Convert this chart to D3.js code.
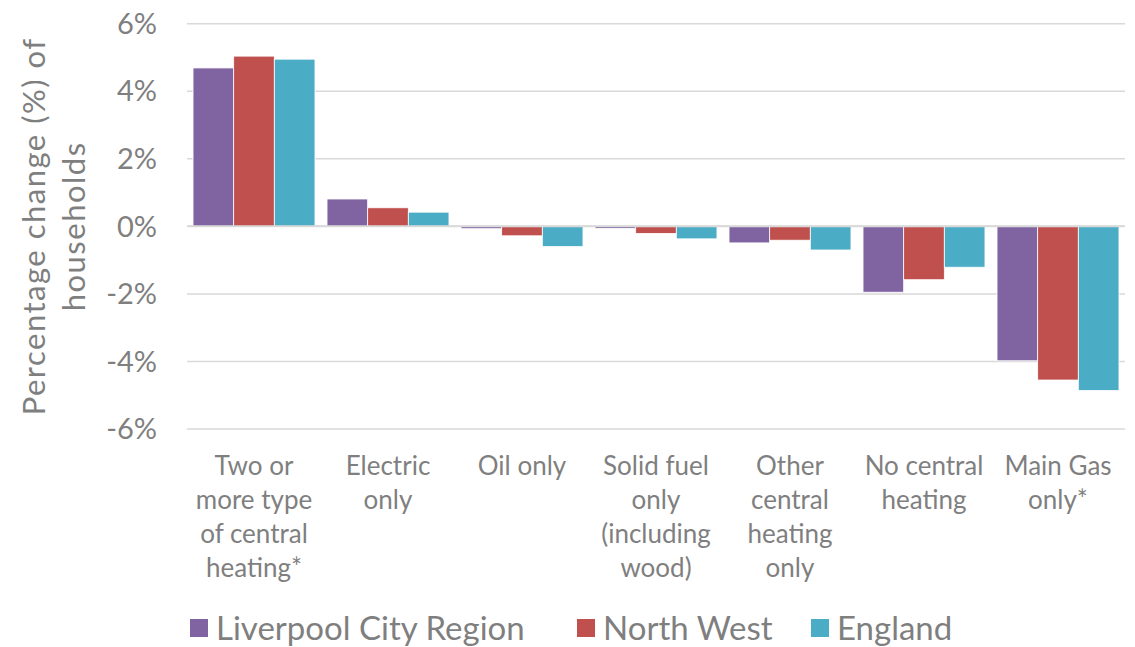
<!DOCTYPE html>
<meta charset="utf-8">
<style>
body { margin: 0; background: #fff; }
text { font-family: Lato, "Open Sans", sans-serif; fill: #7f7f7f; }
.grid line { stroke: #d9d9d9; stroke-width: 1.5px; }
</style>
<body>
<script src="https://cdn.jsdelivr.net/npm/d3@7"></script>
<script>

// categories (each split into the lines shown under the axis)
var categories = ["Two or more type of central heating*", "Electric only", "Oil only",
  "Solid fuel only (including wood)", "Other central heating only", "No central heating", "Main Gas only*"];
var categoryLines = [
  ["Two or", "more type", "of central", "heating*"],
  ["Electric", "only"],
  ["Oil only"],
  ["Solid fuel", "only", "(including", "wood)"],
  ["Other", "central", "heating", "only"],
  ["No central", "heating"],
  ["Main Gas", "only*"]
];
var series = ["Liverpool City Region", "North West", "England"];
var colors = ["#8064a2", "#c0504d", "#4bacc6"];

// percentage change values per series
var liverpool = [4.69, 0.81, -0.07, -0.06, -0.49, -1.95, -3.98];
var northWest = [5.04, 0.55, -0.28, -0.21, -0.41, -1.58, -4.55];
var england   = [4.95, 0.42, -0.60, -0.37, -0.70, -1.21, -4.86];
var values = [liverpool, northWest, england];

var yTicks = [-6, -4, -2, 0, 2, 4, 6];

var W = 1135, H = 647;
var plot = {left: 187, right: 1125, top: 23.7, bottom: 429};

var svg = d3.select("body").append("svg")
    .attr("width", W)
    .attr("height", H);

var x = d3.scaleBand().domain(categories).range([plot.left, plot.right]).paddingInner(0.09).paddingOuter(0.045);
var xs = d3.scaleBand().domain(series).range([0, x.bandwidth()]);
var y = d3.scaleLinear().domain([-6, 6]).range([plot.bottom, plot.top]);

// gridlines
svg.append("g")
    .attr("class", "grid")
    .selectAll("line")
    .data(yTicks)
  .enter().append("line")
    .attr("x1", plot.left)
    .attr("x2", plot.right)
    .attr("y1", function(d) { return y(d); })
    .attr("y2", function(d) { return y(d); });

// y labels
svg.append("g")
    .selectAll("text")
    .data(yTicks)
  .enter().append("text")
    .attr("x", 157)
    .attr("y", function(d) { return y(d); })
    .attr("dy", "0.35em")
    .attr("text-anchor", "end")
    .style("font-size", "29px")
    .text(function(d) { return d + "%"; });

// bars
series.forEach(function(s, i) {
  svg.append("g")
      .selectAll("rect")
      .data(values[i])
    .enter().append("rect")
      .attr("x", function(d, j) { return x(categories[j]) + xs(s); })
      .attr("width", xs.bandwidth())
      .attr("y", function(d) { return y(Math.max(0, d)); })
      .attr("height", function(d) { return Math.abs(y(d) - y(0)); })
      .attr("fill", colors[i])
      .attr("stroke", "#fff")
      .attr("stroke-width", 0.8);
});

// zero line
svg.append("line")
    .attr("x1", plot.left).attr("x2", plot.right)
    .attr("y1", y(0)).attr("y2", y(0))
    .attr("stroke", "#d9d9d9")
    .attr("stroke-width", 2);

// category labels
categories.forEach(function(c, j) {
  var t = svg.append("text")
      .attr("text-anchor", "middle")
      .style("font-size", "26px");
  categoryLines[j].forEach(function(line, k) {
    t.append("tspan")
        .attr("x", x(c) + x.bandwidth() / 2)
        .attr("y", 475 + k * 34)
        .text(line);
  });
});

// y axis title
var yt = svg.append("text")
    .attr("transform", "translate(0," + y(0) + ") rotate(-90)")
    .attr("text-anchor", "middle")
    .style("font-size", "31px")
    .style("letter-spacing", "1.5px");
yt.append("tspan").attr("x", 0).attr("y", 45).text("Percentage change (%) of");
yt.append("tspan").attr("x", 0).attr("y", 85).text("households");

// legend
var legendX = [190, 577, 811];
series.forEach(function(s, i) {
  svg.append("rect")
      .attr("x", legendX[i]).attr("y", 619)
      .attr("width", 18).attr("height", 18)
      .attr("fill", colors[i]);
  svg.append("text")
      .attr("x", legendX[i] + 26).attr("y", 628)
      .attr("dy", "0.35em")
      .style("font-size", "33px")
      .text(s);
});

</script>
